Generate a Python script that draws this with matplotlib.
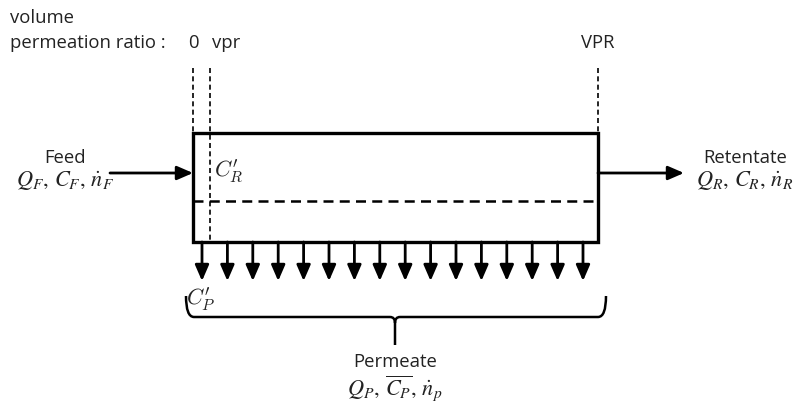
import numpy as np
import matplotlib.pyplot as plt
from matplotlib.path import Path
from matplotlib.patches import PathPatch, Rectangle

plt.rcParams['font.family'] = ['Open Sans', 'DejaVu Sans']
plt.rcParams['mathtext.fontset'] = 'stix'

# labels
ratio_labels = ['0', 'vpr', 'VPR']
feed_label = 'Feed'
feed_vars = r'$Q_F,\, C_F,\, \dot{n}_F$'
ret_label = 'Retentate'
ret_vars = r'$Q_R,\, C_R,\, \dot{n}_R$'
perm_label = 'Permeate'
perm_vars = r'$Q_P,\, \overline{C_P},\, \dot{n}_p$'
n_arrows = 16

fig = plt.figure(figsize=(7.96, 4.03), dpi=100)
ax = fig.add_axes([0, 0, 1, 1])
ax.set_xlim(0, 796)
ax.set_ylim(403, 0)
ax.axis('off')

fs = 13.3
mfs = 16
# module box
x0, x1, y0, y1 = 193, 598, 133, 242
ax.add_patch(Rectangle((x0, y0), x1 - x0, y1 - y0, fill=False, lw=2.4, ec='black'))
ax.plot([x0, x1], [201, 201], color='black', lw=1.8, ls=(0, (4, 2.5)))

# ratio markers
ax.plot([x0, x0], [68, y0], color='black', lw=1.2, ls=(0, (3, 2)))
ax.plot([210, 210], [68, y1], color='black', lw=1.2, ls=(0, (3, 2)))
ax.plot([x1, x1], [68, y0], color='black', lw=1.2, ls=(0, (3, 2)))

ax.text(10, 18, 'volume', fontsize=fs, ha='left', va='center', color='#222222')
ax.text(10, 43, 'permeation ratio :', fontsize=fs, ha='left', va='center', color='#222222')
for xp, lab in zip([x0, 226, x1], ratio_labels):
    ax.text(xp, 43, lab, fontsize=fs, ha='center', va='center', color='#222222')

arrow = dict(arrowstyle='-|>,head_length=0.6,head_width=0.26', lw=2, color='black',
             mutation_scale=16, shrinkA=0, shrinkB=0)
# feed / retentate
ax.annotate('', xy=(x0, 173), xytext=(110, 173), arrowprops=arrow)
ax.annotate('', xy=(684, 173), xytext=(x1, 173), arrowprops=arrow)
ax.text(65, 158, feed_label, fontsize=fs, ha='center', va='center', color='#222222')
ax.text(65, 181, feed_vars, fontsize=mfs, ha='center', va='center', color='#222222')
ax.text(745, 158, ret_label, fontsize=fs, ha='center', va='center', color='#222222')
ax.text(745, 181, ret_vars, fontsize=mfs, ha='center', va='center', color='#222222')
ax.text(214, 171, r"$C^{\prime}_R$", fontsize=mfs, ha='left', va='center',
        math_fontfamily='cm', color='#222222')

# permeate arrows
for xa in np.linspace(202, 583, n_arrows):
    ax.annotate('', xy=(xa, 281), xytext=(xa, y1), arrowprops=arrow)
ax.text(186, 299, r"$C^{\prime}_P$", fontsize=mfs, ha='left', va='center',
        math_fontfamily='cm', color='#222222')

# brace
bl, br, bt, bm, bx, bb = 186, 606, 296, 317, 395, 345
verts = [(bl, bt), (bl, bm), (bl + 8, bm), (bx - 5, bm), (bx, bm), (bx, bm + 6), (bx, bb),
         (bx, bm + 6), (bx, bm), (bx + 5, bm), (br - 8, bm), (br, bm), (br, bt)]
codes = [Path.MOVETO, Path.CURVE3, Path.CURVE3, Path.LINETO, Path.CURVE3, Path.CURVE3, Path.LINETO,
         Path.MOVETO, Path.CURVE3, Path.CURVE3, Path.LINETO, Path.CURVE3, Path.CURVE3]
ax.add_patch(PathPatch(Path(verts, codes), fill=False, lw=1.8, ec='black'))

ax.text(bx, 362, perm_label, fontsize=fs, ha='center', va='center', color='#222222')
ax.text(bx, 388, perm_vars, fontsize=mfs, ha='center', va='center', color='#222222')

fig.savefig('out.png', dpi=100)
